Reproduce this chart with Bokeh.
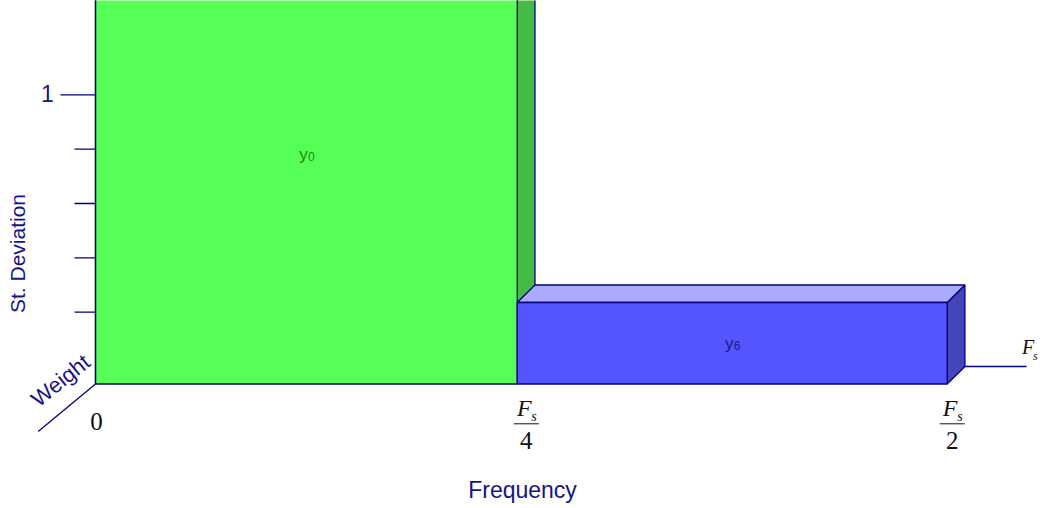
import math
from bokeh.plotting import figure
from bokeh.models import Range1d
from bokeh.core.properties import value
from bokeh.embed import file_html
from bokeh.resources import INLINE

# ---------------- data ----------------
freq_edges = [0.0, 0.2476, 0.5]          # bar edges (fraction of Fs)
bar_values = [1.69, 0.30]                # st. deviation weight per band
bar_names = ["y", "y"]
bar_subs = ["0", "6"]
front_colors = ["#55FF55", "#5555FF"]
top_colors = ["#AAFFAA", "#AAAAFF"]
side_colors = ["#44BB44", "#4444BB"]
label_colors = ["#1A8A1A", "#1A1A8C"]

x_ticks = [0.0, 0.25, 0.5]
x_tick_num = ["0", "F", "F"]
x_tick_sub = ["", "s", "s"]
x_tick_den = ["", "4", "2"]
y_minor_ticks = [0.2, 0.4, 0.6, 0.8]
y_major_ticks = [1.0]
y_major_labels = ["1"]
x_axis_end = 0.5466

NAVY = "#000080"
TXT = "#14148C"
INK = "#111111"

# ---------------- geometry ----------------
W, H = 1045, 508
SX = 1703.4      # px per unit (frequency)
SY = 271.7       # px per unit (st. deviation)
X0_PX = 95
Y0_PX = 366


def px(d):
    return d / SX


def py(d):
    return d / SY


def sy(pix):
    """vertical screen pixel -> data y"""
    return (Y0_PX - pix) / SY


DX = px(17.7)
DY = py(17.5)

p = figure(width=W, height=H, output_backend="svg", toolbar_location=None,
           x_range=Range1d(-X0_PX / SX, (W - X0_PX) / SX),
           y_range=Range1d(-(H - Y0_PX) / SY, Y0_PX / SY),
           x_axis_type=None, y_axis_type=None, min_border=0,
           outline_line_color=None, background_fill_color="white",
           border_fill_color="white")

# ---------------- bars (pseudo 3D) ----------------
for i in range(len(bar_values)):
    x0, x1, v = freq_edges[i], freq_edges[i + 1], bar_values[i]
    # right side face
    p.patch([x1, x1 + DX, x1 + DX, x1], [-DY, 0, v, v - DY],
            fill_color=side_colors[i], line_color=NAVY, line_width=1.3)
    # top face
    p.patch([x0, x0 + DX, x1 + DX, x1], [v - DY, v, v, v - DY],
            fill_color=top_colors[i], line_color=NAVY, line_width=1.3)
    # front face
    p.quad(left=[x0], right=[x1], bottom=[-DY], top=[v - DY],
           fill_color=front_colors[i], line_color=NAVY, line_width=1.3)
    cx = (x0 + x1) / 2
    cy = (v - DY - DY) / 2
    p.text(x=[cx + px(-3)], y=[cy], text=[bar_names[i]], text_font=value("Liberation Sans"),
           text_font_size="17px", text_color=label_colors[i], text_align="center",
           text_baseline="middle")
    p.text(x=[cx + px(1.5)], y=[cy - py(2.5)], text=[bar_subs[i]], text_font=value("Liberation Sans"),
           text_font_size="12px", text_color=label_colors[i], text_align="left",
           text_baseline="middle")

# ---------------- y axis ----------------
y_top = p.y_range.end + 0.1
p.segment(x0=[0], y0=[-DY], x1=[0], y1=[y_top], line_color=NAVY, line_width=1.3)
p.segment(x0=[px(-21)] * len(y_minor_ticks), y0=y_minor_ticks, x1=[0] * len(y_minor_ticks),
          y1=y_minor_ticks, line_color=NAVY, line_width=1.3)
p.segment(x0=[px(-35)] * len(y_major_ticks), y0=y_major_ticks, x1=[0] * len(y_major_ticks),
          y1=y_major_ticks, line_color=NAVY, line_width=1.3)
p.text(x=[px(-48)] * len(y_major_ticks), y=[t + py(1.5) for t in y_major_ticks], text=y_major_labels,
       text_font=value("Liberation Sans"), text_font_size="23px", text_color=TXT,
       text_align="center", text_baseline="middle")
p.text(x=[px(17 - 95)], y=[sy(253)], text=["St. Deviation"], angle=math.pi / 2,
       text_font=value("Liberation Sans"), text_font_size="21px", text_color=TXT,
       text_align="center", text_baseline="middle")

# ---------------- depth axis ----------------
p.segment(x0=[0], y0=[-DY], x1=[px(-57.3)], y1=[-DY - py(47.4)], line_color=NAVY, line_width=1.3)
p.text(x=[px(60 - 95)], y=[sy(380)], text=["Weight"], angle=math.radians(39),
       text_font=value("Liberation Sans"), text_font_size="22px", text_color=TXT,
       text_align="center", text_baseline="middle")

# right-hand axis line with Fs
p.segment(x0=[freq_edges[-1] + DX], y0=[0], x1=[x_axis_end], y1=[0], line_color=NAVY, line_width=1.3)
fx = x_axis_end + px(1.5)
p.text(x=[fx], y=[sy(346)], text=["F"], text_font=value("Liberation Serif"),
       text_font_style="italic", text_font_size="20px", text_color=INK,
       text_align="center", text_baseline="middle")
p.text(x=[fx + px(5)], y=[sy(355)], text=["s"], text_font=value("Liberation Serif"),
       text_font_style="italic", text_font_size="12px", text_color=INK,
       text_align="left", text_baseline="middle")

# ---------------- x tick labels ----------------
for t, num, sub, den in zip(x_ticks, x_tick_num, x_tick_sub, x_tick_den):
    if den == "":
        p.text(x=[t + px(1)], y=[sy(421)], text=[num], text_font=value("Liberation Serif"),
               text_font_size="25px", text_color=INK, text_align="center",
               text_baseline="middle")
        continue
    c = t + px(5)
    p.text(x=[c - px(2)], y=[sy(407)], text=[num], text_font=value("Liberation Serif"),
           text_font_style="italic", text_font_size="24px", text_color=INK,
           text_align="center", text_baseline="middle")
    p.text(x=[c + px(5)], y=[sy(415.5)], text=[sub], text_font=value("Liberation Serif"),
           text_font_style="italic", text_font_size="14px", text_color=INK,
           text_align="left", text_baseline="middle")
    p.segment(x0=[c - px(12.5)], y0=[sy(423.3)], x1=[c + px(12.5)], y1=[sy(423.3)],
              line_color=INK, line_width=1)
    p.text(x=[c], y=[sy(440)], text=[den], text_font=value("Liberation Serif"),
           text_font_size="25px", text_color=INK, text_align="center",
           text_baseline="middle")

p.text(x=[px(522 - 95)], y=[sy(489)], text=["Frequency"], text_font=value("Liberation Sans"),
       text_font_size="23px", text_color=TXT, text_align="center", text_baseline="middle")

open("out.html", "w").write(file_html(p, INLINE))
